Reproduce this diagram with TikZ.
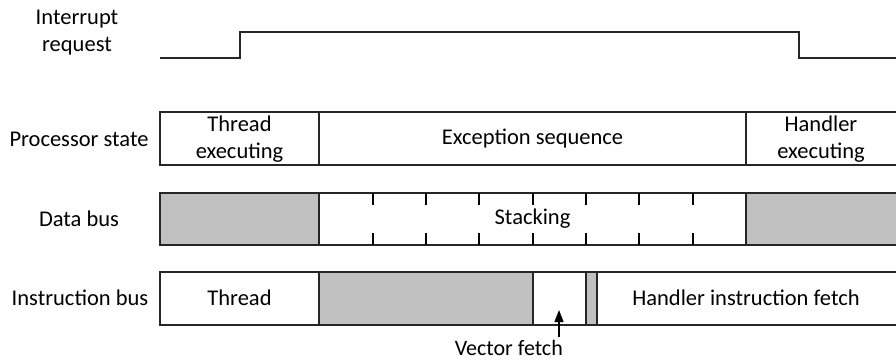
\documentclass[tikz,border=0pt]{standalone}
\usepackage{fontspec}
\setmainfont{Carlito}
\usetikzlibrary{arrows.meta}
\definecolor{busgray}{HTML}{C0C0C0}
\tikzset{
  lbl/.style={font=\fontsize{22.5}{27}\selectfont, align=center, inner sep=0pt},
  one/.style={font=\fontsize{22}{26}\selectfont, inner sep=0pt},
  wire/.style={line width=1.5pt, draw=black!85},
  gbox/.style={fill=busgray},
  tick/.style={line width=1.3pt}
}
\begin{document}
\begin{tikzpicture}[x=1pt,y=-1pt]
\useasboundingbox (0,0) rectangle (896,361);
% interrupt request
\node[lbl] (irq) at (77,33) {Interrupt\\request};
\coordinate (s0) at (160,58);
\coordinate (s1) at (240,58);
\coordinate (s2) at (240,32);
\coordinate (s3) at (799,32);
\coordinate (s4) at (799,58);
\coordinate (s5) at (896,58);
\draw[wire] (s0) -- (s1) -- (s2) -- (s3) -- (s4) -- (s5);
% row labels
\node[lbl] (ps) at (79,139) {Processor state};
\node[lbl] (db) at (79,219) {Data bus};
\node[lbl] (ib) at (80,298) {Instruction bus};
% fills
\fill[gbox] (160,193) rectangle (319,245);
\fill[gbox] (746,193) rectangle (896,245);
\fill[gbox] (319,272) rectangle (533,325);
\fill[gbox] (586,272) rectangle (597,325);
% processor state row
\draw[wire] (896,112) -- (160,112) -- (160,165) -- (896,165);
\draw[wire] (319,112) -- (319,165);
\draw[wire] (746,112) -- (746,165);
\node[lbl] (te) at (239.5,139) {Thread\\executing};
\node[lbl] (es) at (532.5,139) {Exception sequence};
\node[lbl] (he) at (821,139) {Handler\\executing};
% data bus row
\draw[wire] (896,193) -- (160,193) -- (160,245) -- (896,245);
\draw[wire] (319,193) -- (319,245);
\draw[wire] (746,193) -- (746,245);
\foreach \x in {373,426,479,533,586,639,693} {
  \draw[tick] (\x,193) -- (\x,205);
  \draw[tick] (\x,233) -- (\x,245);
}
\node[lbl] (st) at (532.5,219) {Stacking};
% instruction bus row
\draw[wire] (896,272) -- (160,272) -- (160,325) -- (896,325);
\foreach \x in {319,533,586,597} {
  \draw[wire] (\x,272) -- (\x,325);
}
\node[lbl] (th) at (239.5,298) {Thread};
\node[lbl] (hif) at (746,298) {Handler instruction fetch};
% vector fetch
\node[one, anchor=base east] (vf) at (563,355) {Vector fetch};
\coordinate (vfa) at (559,337);
\coordinate (vfb) at (559,310);
\draw[line width=1.3pt, -{Triangle[length=12pt,width=9pt]}] (vfa) -- (vfb);
\end{tikzpicture}
\end{document}
